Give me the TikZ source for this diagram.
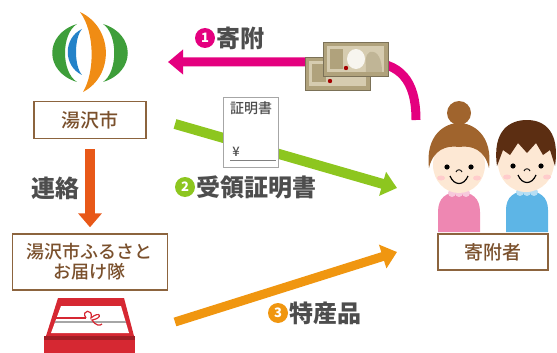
\documentclass[tikz,border=0pt]{standalone}
\usepackage{fontspec}
\setmainfont{Noto Sans CJK JP}
\newfontfamily\boxfont{Noto Sans CJK JP Medium}
\usepackage{xcolor}
\usepackage{tikz}
\usetikzlibrary{arrows.meta}
\definecolor{YZBrown}{RGB}{122, 80, 44}
\definecolor{YZFrame}{RGB}{140, 100, 62}
\definecolor{YZText}{RGB}{77, 77, 77}
\definecolor{YZPink}{RGB}{228, 0, 127}
\definecolor{YZGreen}{RGB}{141, 198, 31}
\definecolor{YZOrange}{RGB}{240, 150, 16}
\definecolor{YZRust}{RGB}{232, 88, 24}
\definecolor{LogoGreen}{RGB}{62, 158, 58}
\definecolor{LogoBlue}{RGB}{36, 130, 200}
\definecolor{LogoOrange}{RGB}{240, 140, 20}
\definecolor{NoteTan}{RGB}{176, 162, 124}
\definecolor{NoteLight}{RGB}{214, 204, 176}
\definecolor{GiftRed}{RGB}{214, 40, 50}
\definecolor{Skin}{RGB}{253, 232, 212}
\definecolor{HairGirl}{RGB}{160, 100, 45}
\definecolor{HairBoy}{RGB}{92, 46, 18}
\definecolor{ShirtPink}{RGB}{238, 135, 178}
\definecolor{ShirtBlue}{RGB}{93, 181, 230}

\begin{document}
\begin{tikzpicture}[x=1pt, y=-1pt,
    labelbox/.style={draw=YZFrame, line width=1.4pt, fill=white, text=YZBrown,
      inner sep=0pt, font=\boxfont\fontsize{19}{21}\selectfont},
    steplabel/.style={text=YZText, inner sep=1pt, font=\bfseries\fontsize{24}{24}\selectfont},
    numdot/.style={circle, fill=#1, text=white, inner sep=0pt, minimum size=20pt,
      font=\bfseries\fontsize{13}{13}\selectfont},
    flow/.style={line width=#1, -{Triangle[width=24pt, length=15pt]}}]
    \useasboundingbox (0,0) rectangle (557,353);

    % Logo
    \node[minimum size=80pt, inner sep=0pt] (logo) at (90,52) {};
    \fill[LogoGreen] (77,24) .. controls (44,34) and (44,72) .. (77,82)
      .. controls (61,72) and (61,34) .. cycle;
    \fill[LogoBlue] (82,29) .. controls (63,38) and (63,66) .. (82,75)
      .. controls (74,66) and (74,38) .. cycle;
    \fill[LogoGreen] (103,24) .. controls (136,34) and (136,72) .. (103,82)
      .. controls (118,72) and (118,34) .. cycle;
    \fill[LogoOrange] (80,12) .. controls (114,28) and (114,76) .. (83,92)
      .. controls (95,72) and (95,32) .. cycle;

    % City and delivery team
    \node[labelbox, minimum width=112pt, minimum height=37pt] (citybox) at (90,120) {湯沢市};
    \node[labelbox, minimum width=155pt, minimum height=56pt, align=center,
      font=\boxfont\fontsize{18}{20}\selectfont] (teambox) at (90,262) {湯沢市ふるさと\\お届け隊};
    \draw[YZRust, line width=10pt, shorten <=10pt, shorten >=6pt,
      -{Triangle[width=23pt, length=14pt]}] (citybox.south) -- (teambox.north);
    \node[steplabel] (contact) at (55,188) {連絡};

    % Gift box
    \fill[GiftRed] (58,298) -- (124,298) -- (134,336) -- (46,336) -- cycle;
    \fill[white] (61,306) -- (121,306) -- (129,333) -- (51,333) -- cycle;
    \draw[gray!70, line width=1.2pt] (55,322) -- (126,322);
    \draw[GiftRed, line width=1.2pt] (53,318) -- (86,318);
    \draw[GiftRed, line width=1.2pt] (86,318) .. controls (80,310) and (94,308) .. (91,318)
      .. controls (100,310) and (104,318) .. (92,320) .. controls (96,326) and (100,326) .. (102,324);
    \fill[GiftRed] (44,336) rectangle (135,353);
    \fill[GiftRed!75!black] (44,336) rectangle (135,340);

    % Donors
    \fill[ShirtPink] (438,232) -- (438,212) .. controls (438,198) and (446,192) .. (459,192)
      .. controls (472,192) and (480,198) .. (480,212) -- (480,232) -- cycle;
    \foreach \cx in {452,459,466}
      \fill[ShirtPink!45] (\cx,193) circle (4);
    \fill[HairGirl] (459,113) circle (12);
    \fill[Skin] (459,165) ellipse (26 and 28);
    \fill[HairGirl] (429,168) .. controls (425,135) and (445,123) .. (459,123)
      .. controls (473,123) and (493,135) .. (489,168)
      .. controls (485,150) and (472,145) .. (459,147)
      .. controls (446,145) and (433,150) .. cycle;
    \fill (447,167) circle (2.6) (471,167) circle (2.6);
    \fill[pink!80] (441,178) ellipse (4 and 2.5) (477,178) ellipse (4 and 2.5);
    \draw[line width=1.2pt] (450,176) .. controls (454,186) and (464,186) .. (468,176);
    \draw[line width=0.9pt] (456,172) .. controls (457,169) and (461,169) .. (462,172);

    \fill[ShirtBlue] (506,232) -- (506,210) .. controls (506,197) and (514,191) .. (527,191)
      .. controls (540,191) and (548,197) .. (548,210) -- (548,232) -- cycle;
    \foreach \cx in {520,527,534}
      \fill[ShirtBlue!45] (\cx,192) circle (4);
    \fill[Skin] (526,163) ellipse (28 and 29);
    \fill[HairBoy] (497,166) .. controls (492,130) and (510,120) .. (527,120)
      .. controls (545,120) and (560,132) .. (555,166)
      -- (550,150) -- (543,155) -- (536,143) -- (527,153) -- (518,143) -- (510,155)
      -- (503,150) -- cycle;
    \fill (513,166) circle (2.6) (541,166) circle (2.6);
    \fill[pink!80] (507,177) ellipse (4 and 2.5) (547,177) ellipse (4 and 2.5);
    \draw[line width=1.2pt] (518,175) .. controls (522,185) and (532,185) .. (536,175);
    \draw[line width=0.9pt] (524,171) .. controls (525,168) and (529,168) .. (530,171);

    \node[labelbox, minimum width=110pt, minimum height=36pt] (donorbox) at (493,252) {寄附者};

    % 1: donation
    \coordinate (giftfrom) at (416,120);
    \coordinate (giftto) at (168,62);
    \draw[YZPink, flow=9pt] (giftfrom) .. controls (416,80) and (400,62) .. (365,62) -- (giftto);
    \node[numdot=YZPink] (n1) at (205,38) {1};
    \node[steplabel, anchor=west] (donate) at (n1.east) {寄附};
    % banknotes
    \fill[NoteTan, draw=NoteTan!70!black, line width=0.6pt] (305,57) rectangle (370,90);
    \fill[NoteLight] (309,61) rectangle (366,86);
    \fill[NoteTan] (312,64) rectangle (326,82);
    \fill[red!65!black] (330,81) circle (2.2);
    \fill[NoteTan, draw=NoteTan!70!black, line width=0.6pt] (323,42) rectangle (388,76);
    \fill[NoteLight] (327,46) rectangle (384,72);
    \fill[NoteTan] (330,49) rectangle (343,69);
    \fill[white!80!NoteLight] (356,59) ellipse (9 and 10);
    \fill[NoteTan!80!white] (370,52) .. controls (378,50) and (382,60) .. (382,72) -- (366,72)
      .. controls (366,62) and (364,55) .. cycle;
    \fill[red!65!black] (346,68) circle (2.2);

    % 2: receipt
    \coordinate (receiptfrom) at (175,124);
    \coordinate (receiptto) at (397,188);
    \draw[YZGreen, flow=10pt] (receiptfrom) -- (receiptto);
    \node[draw=gray!70, line width=0.8pt, fill=white, minimum width=55pt, minimum height=70pt]
      (certificate) at (251,132) {};
    \node[text=YZText, font=\boxfont\fontsize{14}{14}\selectfont] (certtitle) at (251,108) {証明書};
    \node[text=YZText, font=\boxfont\fontsize{13}{13}\selectfont] (yen) at (236,152) {¥};
    \draw[gray, line width=0.8pt] (230,160) -- (276,160);
    \node[numdot=YZGreen] (n2) at (185,187) {2};
    \node[steplabel, anchor=west] (receipt) at (n2.east) {受領証明書};

    % 3: local products
    \coordinate (productfrom) at (175,322);
    \coordinate (productto) at (397,252);
    \draw[YZOrange, flow=9pt] (productfrom) -- (productto);
    \node[numdot=YZOrange] (n3) at (278,313) {3};
    \node[steplabel, anchor=west] (product) at (n3.east) {特産品};
\end{tikzpicture}
\end{document}
